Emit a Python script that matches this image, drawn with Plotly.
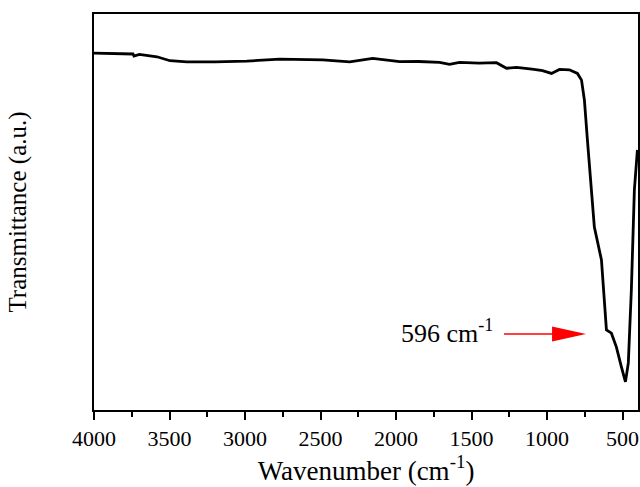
import plotly.graph_objects as go

# FTIR spectrum
wavenumber = [4000, 3900, 3800, 3742, 3735, 3700, 3583, 3497, 3385, 3200, 2988, 2770,
              2485, 2307, 2155, 1976, 1850, 1712, 1646, 1580, 1450, 1335, 1269, 1202,
              1100, 1030, 971, 918, 852, 799, 772, 753, 733, 706, 687, 640, 607, 574,
              541, 508, 481, 462, 442, 422, 402]
transmittance = [90.1, 90.0, 89.9, 89.9, 89.4, 89.8, 89.2, 88.2, 87.9, 87.9, 88.1, 88.6,
                 88.4, 87.9, 88.8, 87.95, 88.0, 87.8, 87.3, 87.8, 87.6, 87.7, 86.3, 86.5,
                 86.1, 85.7, 85.0, 86.0, 85.9, 85.0, 83.3, 78.3, 68.2, 55.6, 46.2, 37.9,
                 20.2, 19.4, 15.9, 10.9, 7.1, 11.9, 30.3, 55.6, 65.7]

x_ticks = [4000, 3500, 3000, 2500, 2000, 1500, 1000, 500]
x_tick_labels = ["4000", "3500", "3000", "2500", "2000", "1500", "1000", "500"]
x_minor_ticks = [3750, 3250, 2750, 2250, 1750, 1250, 750]

peak_label = "596 cm<sup>-1</sup>"

FONT = "Times New Roman"

fig = go.Figure()
fig.add_trace(go.Scatter(x=wavenumber, y=transmittance, mode="lines",
                         line=dict(color="black", width=2.8), showlegend=False))

fig.add_annotation(x=1978, y=19.8, xref="x", yref="y", text=peak_label,
                   showarrow=False, xanchor="left", yanchor="middle",
                   font=dict(family=FONT, size=26, color="black"))

# red arrow (line + triangle head), drawn in pixel units relative to the tip
fig.add_shape(type="line", xref="x", yref="y", xsizemode="pixel", ysizemode="pixel",
              xanchor=742, yanchor=19.2, x0=-82, x1=-30, y0=0, y1=0,
              line=dict(color="red", width=1.5))
fig.add_shape(type="path", xref="x", yref="y", xsizemode="pixel", ysizemode="pixel",
              xanchor=742, yanchor=19.2, path="M-34,-7.5 L0,0 L-34,7.5 Z",
              fillcolor="red", line=dict(width=0))

fig.update_layout(
    width=640, height=487,
    margin=dict(l=94, r=2, t=14, b=77),
    plot_bgcolor="white", paper_bgcolor="white",
    font=dict(family=FONT, color="black"),
    xaxis=dict(range=[4000, 398], tickvals=x_ticks, ticktext=x_tick_labels,
               ticks="outside", ticklen=8, tickwidth=1.5, tickcolor="black",
               automargin=False,
               tickfont=dict(family=FONT, size=22, color="black"),
               minor=dict(tickvals=x_minor_ticks,
                          ticks="outside", ticklen=5, tickwidth=1.5, tickcolor="black"),
               showline=True, linecolor="black", linewidth=2, mirror=True,
               showgrid=False, zeroline=False,
               title=dict(text="Wavenumber (cm<sup>-1</sup>)",
                          font=dict(family=FONT, size=27, color="black"), standoff=8)),
    yaxis=dict(range=[0, 100], showticklabels=False, ticks="", automargin=False,
               showline=True, linecolor="black", linewidth=2, mirror=True,
               showgrid=False, zeroline=False,
               title=dict(text="Transmittance (a.u.)",
                          font=dict(family=FONT, size=25, color="black"), standoff=58)),
)

fig.write_html("out.html", config={"displayModeBar": False},
               post_script="document.body.style.margin='0';document.body.style.overflow='hidden';")
